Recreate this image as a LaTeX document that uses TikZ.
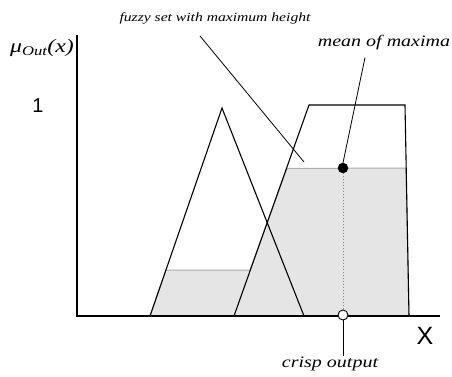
\documentclass[tikz,border=0pt]{standalone}
\usepackage{fontspec}
\setmainfont{Liberation Serif}
\setsansfont{Liberation Sans}
\newfontfamily\tagfont{Liberation Serif}[FakeStretch=1.25]
\usetikzlibrary{positioning, calc}

\begin{document}
\begin{tikzpicture}[x=1pt, y=-1pt, >=latex]
  \tikzset{
    member/.style={draw=black, line width=1.1pt, line join=miter},
    cut/.style={fill=gray!20, draw=gray!65, line width=1pt},
    tag/.style={font=\tagfont\itshape, inner sep=1pt},
    pointer/.style={draw=black, line width=0.8pt},
    maxdot/.style={circle, fill=black, draw=black, inner sep=0pt, minimum size=10pt},
    outdot/.style={circle, fill=white, draw=black, line width=0.9pt, inner sep=0pt, minimum size=10pt},
  }
  \useasboundingbox (0,0) rectangle (452,376);

  % clipped output set
  \draw[cut] (150,316) -- (166,270) -- (250,270) -- (287,168.5)
    -- (406,168) -- (409,316) -- cycle;

  % axes
  \coordinate (O) at (77,316);
  \draw[line width=1.2pt] (77,35) -- (O) -- (440,316);

  % membership functions
  \draw[member] (150,316) -- (222,108) -- (304,316);
  \draw[member] (234,316) -- (309,105) -- (405,105) -- (409,316);

  % axis labels
  \node[tag, font=\tagfont\itshape\fontsize{19}{22}\selectfont] (mu) at (42,48)
    {μ\textsubscript{Out}(x)};
  \node[font=\sffamily\fontsize{20}{24}\selectfont] (one) at (38,106) {1};
  \node[font=\sffamily\fontsize{25}{30}\selectfont] (xlab) at (425,336) {X};

  % mean of maxima
  \node[maxdot] (mom) at (343,168) {};
  \node[outdot] (crisp) at (343,315) {};
  \draw[gray, dotted, line width=1pt] (mom) -- (crisp);

  \node[tag, font=\tagfont\itshape\fontsize{16}{19}\selectfont] (mtag) at (384,43)
    {mean of maxima};
  \draw[pointer] (mtag.south) ++(-19,6) -- (mom.north);

  \node[tag, font=\tagfont\itshape\fontsize{16}{19}\selectfont] (ctag) at (330,364)
    {crisp output};
  \draw[pointer] (crisp.south) -- (crisp.south |- ctag.north);

  \node[tag, font=\tagfont\itshape\fontsize{12.5}{15}\selectfont] (ftag) at (215,18)
    {fuzzy set with maximum height};
  \coordinate (fend) at (304,162);
  \draw[pointer] (ftag.south) ++(-15,11) -- (fend);
\end{tikzpicture}
\end{document}
